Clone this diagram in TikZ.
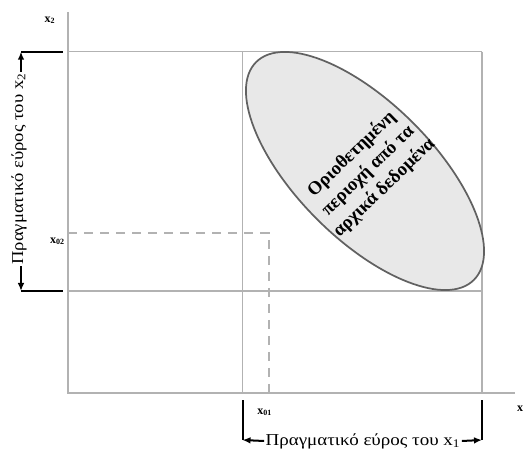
\documentclass[tikz,border=0pt]{standalone}
\usepackage{fontspec}
\setmainfont{Liberation Serif}
\usetikzlibrary{arrows.meta}
\begin{document}
\begin{tikzpicture}[x=0.75pt,y=-0.75pt,
  guide/.style={draw=black!30,line width=1.2pt},
  dashguide/.style={draw=black!30,line width=1.2pt,dash pattern=on 7pt off 5pt},
  bracket/.style={draw=black,line width=1.5pt},
  arr/.style={draw=black,line width=1.5pt,{Latex[length=6pt,width=5pt]}-},
  axlabel/.style={font=\fontsize{9}{10}\selectfont\bfseries,inner sep=0pt},
  rangetext/.style={font=\fontsize{12.5}{14}\selectfont,inner sep=1pt},
  regiontext/.style={font=\fontsize{14}{17.5}\selectfont\bfseries,align=center,inner sep=0pt},
  regionshape/.style={draw=black!62,line width=1.3pt,fill=black!9}
]
\useasboundingbox (0,0) rectangle (525,452);
% axes
\coordinate (o) at (68,393);
\coordinate (ytop) at (68,12);
\coordinate (xend) at (515,393);
\draw[guide] (ytop) -- (o) -- (xend);
% range box lines
\coordinate (a1) at (68,51.7);
\coordinate (a2) at (482,51.7);
\coordinate (b1) at (68,291);
\coordinate (b2) at (482,291);
\coordinate (c1) at (242.5,51.7);
\coordinate (c2) at (242.5,393);
\coordinate (d2) at (482,393);
\draw[guide] (a1) -- (a2);
\draw[guide] (b1) -- (b2);
\draw[guide] (c1) -- (c2);
\draw[guide] (a2) -- (d2);
% dashed lines
\coordinate (e1) at (68,233);
\coordinate (e2) at (269,233);
\coordinate (e3) at (269,393);
\draw[dashguide] (e1) -- (e2) -- (e3);
% ellipse region
\coordinate (ec) at (365,171);
\draw[regionshape,rotate around={-45:(ec)}] (ec) ellipse [x radius=154, y radius=68];
\node[regiontext,rotate=44] (regionlabel) at (368,171) {Οριοθετημένη\\περιοχή από τα\\αρχικά δεδομένα};
% labels
\node[axlabel] (lx2) at (50,20) {x\textsubscript{2}};
\node[axlabel] (lx) at (520,409) {x};
\node[axlabel,anchor=east] (lx02) at (65,241) {x\textsubscript{02}};
\node[axlabel,anchor=west] (lx01) at (257,412) {x\textsubscript{01}};
% left range bracket
\coordinate (ltc) at (21,51.7);
\coordinate (lte) at (63,51.7);
\coordinate (lbc) at (21,291);
\coordinate (lbe) at (63,291);
\node[rangetext,rotate=90] (rx2) at (19,169) {\scalebox{1.12}[1]{Πραγματικό εύρος του x\textsubscript{2}}};
\draw[bracket] (ltc) -- (lte);
\draw[bracket] (lbc) -- (lbe);
\draw[arr] (ltc) -- (ltc |- rx2.east);
\draw[arr] (lbc) -- (lbc |- rx2.west);
% bottom range bracket
\coordinate (blt) at (242.5,400);
\coordinate (blc) at (242.5,440);
\coordinate (brt) at (482,400);
\coordinate (brc) at (482,440);
\node[rangetext] (rx1) at (363,441) {\scalebox{1.14}[1]{Πραγματικό εύρος του x\textsubscript{1}}};
\draw[bracket] (blt) -- (blc);
\draw[bracket] (brt) -- (brc);
\draw[arr] (blc) -- (rx1.west);
\draw[arr] (brc) -- (rx1.east);
\end{tikzpicture}
\end{document}
